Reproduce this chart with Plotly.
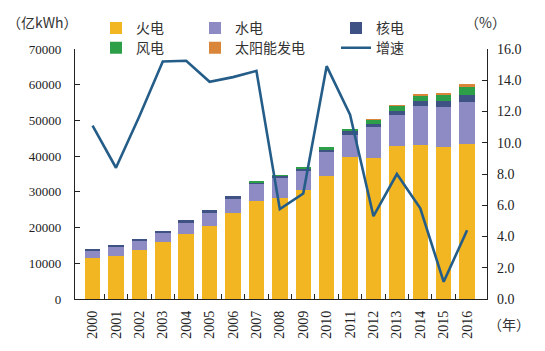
import plotly.graph_objects as go

years = list(range(2000, 2017))
year_labels = [str(y) for y in years]
thermal = [11400, 12000, 13600, 16000, 18200, 20500, 24000, 27400, 28400, 30500, 34400, 39800, 39500, 42800, 43200, 42700, 43300]
hydro = [2200, 2690, 2680, 2600, 3350, 3770, 4250, 4710, 5480, 5410, 6820, 6250, 8600, 8800, 10800, 11200, 11900]
nuclear = [170, 175, 265, 430, 505, 530, 550, 620, 690, 700, 740, 870, 1000, 1120, 1330, 1500, 1800]
wind = [0, 0, 0, 0, 0, 0, 0, 60, 130, 280, 490, 740, 1030, 1380, 1600, 1860, 2400]
solar = [0, 0, 0, 0, 0, 0, 0, 0, 0, 0, 0, 0, 36, 84, 240, 400, 700]
growth = [11.1, 8.4, 11.7, 15.2, 15.25, 13.9, 14.2, 14.6, 5.75, 6.75, 14.9, 11.8, 5.3, 8.0, 5.8, 1.1, 4.4]

C_TH = "#F2B623"
C_HY = "#8D8AC4"
C_NU = "#3E5283"
C_WI = "#2E9F49"
C_SO = "#D9853A"
C_LN = "#255D89"

SERIF = "Liberation Serif"
CJK = "Noto Sans CJK SC"

W, H = 545, 351
ML, MR, MT, MB = 75, 58, 49, 49.5
PW, PH = W - ML - MR, H - MT - MB


def px_x(px):
    return (px - ML) / PW


def px_y(py):
    return (H - MB - py) / PH


fig = go.Figure()
bars = [("火电", thermal, C_TH, "legend"), ("水电", hydro, C_HY, "legend2"),
        ("核电", nuclear, C_NU, "legend3"), ("风电", wind, C_WI, "legend4"),
        ("太阳能发电", solar, C_SO, "legend5")]
for name, vals, col, lg in bars:
    fig.add_trace(go.Bar(x=years, y=vals, name=name, marker=dict(color=col, line=dict(width=0)),
                         legend=lg))
fig.add_trace(go.Scatter(x=years, y=growth, name="增速", mode="lines", yaxis="y2",
                         line=dict(color=C_LN, width=2.6), legend="legend6"))

legend_common = dict(orientation="v", yanchor="top", xanchor="left", traceorder="normal",
                     font=dict(family=CJK, size=14, color="#333"), bgcolor="rgba(0,0,0,0)",
                     tracegroupgap=0, itemwidth=30)
R1, R2 = 12, 32
fig.update_layout(
    width=W, height=H,
    margin=dict(l=ML, r=MR, t=MT, b=MB),
    plot_bgcolor="white", paper_bgcolor="white",
    barmode="stack", bargap=0.34,
    showlegend=True,
    legend=dict(legend_common, x=px_x(96), y=px_y(R1)),
    legend2=dict(legend_common, x=px_x(195), y=px_y(R1)),
    legend3=dict(legend_common, x=px_x(336), y=px_y(R1)),
    legend4=dict(legend_common, x=px_x(96), y=px_y(R2)),
    legend5=dict(legend_common, x=px_x(195), y=px_y(R2)),
    legend6=dict(legend_common, x=px_x(336), y=px_y(R2)),
    xaxis=dict(range=[1999.25, 2016.85], tickmode="array", tickvals=years, ticktext=year_labels,
               tickangle=-90, ticks="", showline=True, linecolor="#222", linewidth=1.2,
               showgrid=False, zeroline=False, tickfont=dict(family=SERIF, size=14, color="#222"),
               ticklabelstandoff=5,
               minor=dict(tickmode="array", tickvals=[y + 0.5 for y in years[:-1]], ticks="inside",
                          ticklen=5, tickcolor="#222", showgrid=False)),
    yaxis=dict(range=[0, 70000], dtick=10000, tickformat="d", ticks="inside", ticklen=5,
               tickcolor="#222", showline=True, linecolor="#222", linewidth=1.2, showgrid=False,
               zeroline=False, tickfont=dict(family=SERIF, size=13, color="#222"),
               ticklabelstandoff=10),
    yaxis2=dict(range=[0, 16], dtick=2, tickformat=".1f", overlaying="y", side="right",
                ticks="inside", ticklen=5, tickcolor="#222", showline=True, linecolor="#222",
                linewidth=1.2, showgrid=False, zeroline=False,
                tickfont=dict(family=SERIF, size=14, color="#222"), ticklabelstandoff=6),
    annotations=[
        dict(text="（亿kWh）", x=px_x(42), y=px_y(22), xref="paper", yref="paper",
             xanchor="center", yanchor="middle", showarrow=False,
             font=dict(family=CJK, size=14, color="#333")),
        dict(text="（%）", x=px_x(485), y=px_y(22), xref="paper", yref="paper",
             xanchor="center", yanchor="middle", showarrow=False,
             font=dict(family=CJK, size=14, color="#333")),
        dict(text="（年）", x=px_x(509), y=px_y(327), xref="paper", yref="paper",
             xanchor="center", yanchor="middle", showarrow=False,
             font=dict(family=CJK, size=14, color="#333")),
    ],
)

fig.write_html("out.html")
